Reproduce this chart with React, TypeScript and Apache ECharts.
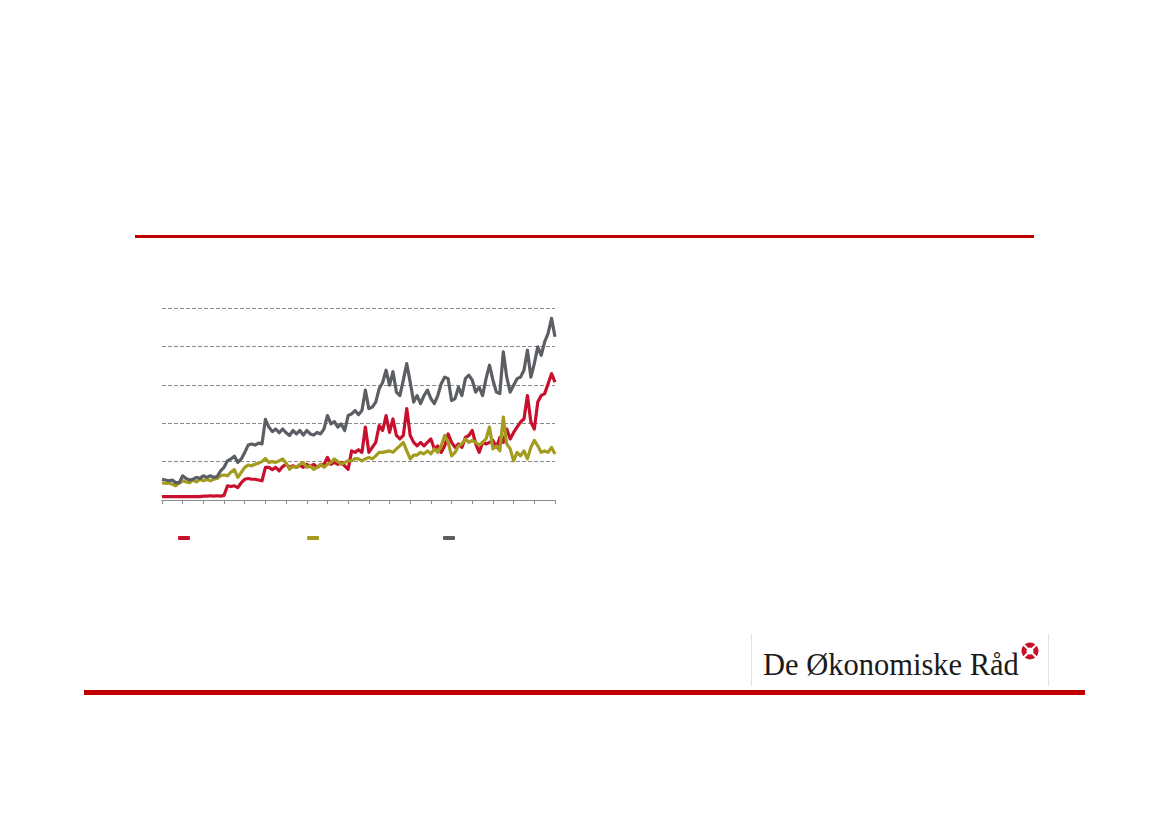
import React, { useEffect, useRef } from "react";
import * as echarts from "echarts";

// Three monthly-ish series (6 points per tick interval, 19 intervals)
const redSeries = [
  0.09, 0.09, 0.09, 0.09, 0.09, 0.09, 0.09, 0.09, 0.09, 0.09, 0.09, 0.09,
  0.1, 0.1, 0.11, 0.1, 0.11, 0.1, 0.12, 0.37, 0.35, 0.37, 0.32, 0.45,
  0.54, 0.56, 0.54, 0.54, 0.52, 0.5, 0.85, 0.85, 0.79, 0.85, 0.76, 0.87,
  0.93, 0.85, 0.89, 0.85, 0.91, 0.85, 0.93, 0.87, 0.93, 0.85, 0.91, 0.93,
  1.11, 0.93, 0.98, 0.93, 0.98, 0.89, 0.8, 1.28, 1.24, 1.31, 1.24, 1.9,
  1.24, 1.37, 1.5, 1.94, 1.81, 2.2, 1.76, 2.11, 1.68, 1.59, 1.68, 2.38,
  1.68, 1.5, 1.41, 1.5, 1.41, 1.5, 1.59, 1.33, 1.41, 1.24, 1.41, 1.72,
  1.5, 1.37, 1.46, 1.37, 1.63, 1.68, 1.81, 1.46, 1.24, 1.5, 1.46, 1.5,
  1.55, 1.37, 1.63, 1.5, 1.85, 1.59, 1.76, 1.9, 2.03, 2.11, 2.72, 2.03,
  1.85, 2.55, 2.72, 2.77, 3.03, 3.29, 3.07,
];

const oliveSeries = [
  0.45, 0.43, 0.44, 0.41, 0.37, 0.44, 0.5, 0.47, 0.45, 0.52, 0.47, 0.54,
  0.5, 0.54, 0.5, 0.54, 0.56, 0.63, 0.65, 0.63, 0.73, 0.79, 0.59, 0.72,
  0.85, 0.91, 0.89, 0.93, 0.96, 1.0, 1.08, 0.98, 1.0, 0.98, 1.02, 1.07,
  0.96, 0.8, 0.87, 0.85, 0.93, 0.98, 0.85, 0.89, 0.8, 0.85, 0.93, 0.85,
  0.93, 0.98, 1.07, 1.0, 0.93, 0.98, 1.02, 1.02, 1.08, 1.07, 1.02, 1.07,
  1.11, 1.07, 1.15, 1.24, 1.24, 1.26, 1.28, 1.24, 1.33, 1.41, 1.5, 1.28,
  1.07, 1.17, 1.17, 1.24, 1.2, 1.28, 1.2, 1.33, 1.24, 1.41, 1.68, 1.5,
  1.15, 1.24, 1.41, 1.46, 1.59, 1.5, 1.55, 1.5, 1.43, 1.5, 1.59, 1.9,
  1.33, 1.41, 1.28, 2.16, 1.46, 1.33, 1.02, 1.24, 1.15, 1.28, 1.07, 1.37,
  1.55, 1.41, 1.24, 1.28, 1.24, 1.37, 1.2,
];

const graySeries = [
  0.54, 0.52, 0.5, 0.52, 0.45, 0.45, 0.63, 0.56, 0.52, 0.54, 0.59, 0.56,
  0.63, 0.59, 0.63, 0.59, 0.61, 0.76, 0.85, 1.02, 1.07, 1.14, 0.98, 1.07,
  1.24, 1.43, 1.46, 1.43, 1.48, 1.46, 2.1, 1.9, 1.78, 1.85, 1.75, 1.85,
  1.75, 1.68, 1.81, 1.72, 1.81, 1.69, 1.81, 1.72, 1.69, 1.76, 1.72, 1.85,
  2.2, 1.98, 2.04, 1.9, 1.98, 1.81, 2.2, 2.24, 2.33, 2.22, 2.33, 2.86,
  2.38, 2.42, 2.55, 2.9, 3.06, 3.38, 2.99, 3.34, 2.81, 2.72, 3.12, 3.55,
  3.07, 2.55, 2.72, 2.51, 2.72, 2.86, 2.64, 2.51, 2.72, 3.03, 3.2, 3.16,
  2.59, 2.64, 2.94, 2.72, 3.16, 3.25, 3.12, 2.81, 2.94, 2.72, 3.16, 3.51,
  3.12, 2.81, 2.77, 3.86, 3.2, 2.81, 2.99, 3.16, 3.2, 3.38, 3.9, 3.2,
  3.55, 3.99, 3.77, 4.12, 4.34, 4.73, 4.25,
];

const categories = redSeries.map((_, i) => String(i));
const seriesNames = ["Serie A", "Serie B", "Serie C"];
const seriesColors = ["#C8102E", "#A39C1F", "#5B5F63"];
const legendLefts = [178, 307, 443];

export default function App() {
  const ref = useRef<HTMLDivElement>(null);

  useEffect(() => {
    if (!ref.current) return;
    const chart = echarts.init(ref.current, undefined, { renderer: "svg" });
    const datasets = [redSeries, oliveSeries, graySeries];

    chart.setOption({
      animation: false,
      backgroundColor: "#ffffff",
      grid: { left: 162, right: 614, top: 308, bottom: 326, containLabel: false },
      xAxis: {
        type: "category",
        data: categories,
        boundaryGap: false,
        axisLine: { show: true, lineStyle: { color: "#8c8c8c", width: 1 } },
        axisTick: { show: true, interval: 5, length: 4, lineStyle: { color: "#8c8c8c" } },
        axisLabel: { show: false },
        splitLine: { show: false },
      },
      yAxis: {
        type: "value",
        min: 0,
        max: 5,
        interval: 1,
        axisLine: { show: false },
        axisTick: { show: false },
        axisLabel: { show: false },
        splitLine: { show: true, lineStyle: { color: "#8a8a8a", type: [4, 2], width: 1 } },
      },
      legend: seriesNames.map((n, i) => ({
        data: [n],
        left: legendLefts[i],
        top: 536,
        icon: "roundRect",
        itemWidth: 12,
        itemHeight: 4,
        formatter: () => "",
        padding: 0,
        textStyle: { fontSize: 1 },
      })),
      series: seriesNames.map((n, i) => ({
        name: n,
        type: "line",
        data: datasets[i],
        showSymbol: false,
        symbol: "none",
        color: seriesColors[i],
        lineStyle: { width: 3.2, color: seriesColors[i], join: "round" },
        z: 2 + i,
      })),
      graphic: [
        {
          type: "rect",
          shape: { x: 135, y: 235, width: 899, height: 3 },
          style: { fill: "#C00000" },
        },
        {
          type: "rect",
          shape: { x: 84, y: 690, width: 1001, height: 5 },
          style: { fill: "#C00000" },
        },
        {
          type: "line",
          shape: { x1: 751.5, y1: 634, x2: 751.5, y2: 686 },
          style: { stroke: "#e4e4e4", lineWidth: 1 },
        },
        {
          type: "line",
          shape: { x1: 1048.5, y1: 634, x2: 1048.5, y2: 686 },
          style: { stroke: "#e4e4e4", lineWidth: 1 },
        },
        {
          type: "text",
          x: 763,
          y: 680,
          style: {
            text: "De Økonomiske Råd",
            font: '30.5px "Liberation Serif", "DejaVu Serif", serif',
            fill: "#1a1a1a",
            textVerticalAlign: "bottom",
            verticalAlign: "bottom",
          },
        },
        {
          type: "ring",
          shape: { cx: 1030, cy: 651, r: 8.5, r0: 3.5 },
          style: { fill: "#C8102E" },
        },
        {
          type: "line",
          shape: { x1: 1023.5, y1: 644.5, x2: 1036.5, y2: 657.5 },
          style: { stroke: "#ffffff", lineWidth: 2 },
        },
        {
          type: "line",
          shape: { x1: 1036.5, y1: 644.5, x2: 1023.5, y2: 657.5 },
          style: { stroke: "#ffffff", lineWidth: 2 },
        },
      ],
    });

    return () => chart.dispose();
  }, []);

  return (
    <div
      ref={ref}
      style={{ position: "fixed", left: 0, top: 0, width: 1169, height: 826 }}
    />
  );
}
